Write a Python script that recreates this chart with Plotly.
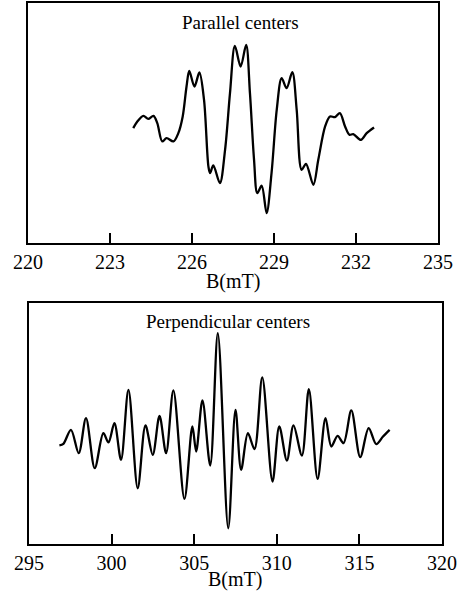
import plotly.graph_objects as go

# Parallel centers spectrum (B in mT, derivative signal in arbitrary units)
par_B = [223.85, 224.00, 224.22, 224.40, 224.59, 224.73, 224.91, 225.07, 225.32, 225.50,
         225.66, 225.80, 225.90, 226.09, 226.27, 226.44, 226.60, 226.66, 226.78, 227.02,
         227.21, 227.39, 227.57, 227.78, 227.98, 228.12, 228.27, 228.39, 228.55, 228.73,
         228.91, 229.10, 229.28, 229.46, 229.67, 229.83, 230.01, 230.17, 230.44, 230.62,
         230.87, 231.05, 231.23, 231.41, 231.60, 231.76, 231.90, 232.18, 232.39, 232.66]
par_S = [5.0, 11.7, 17.3, 14.3, 17.3, 10.0, -8.3, -5.0, -8.3, 0.0,
         16.7, 46.7, 62.3, 46.7, 60.7, 33.3, -33.3, -40.0, -32.3, -50.0,
         -16.7, 40.0, 87.3, 66.7, 88.3, 40.0, -26.7, -60.0, -52.7, -80.0,
         -40.0, 23.3, 55.0, 45.0, 61.0, 23.3, -36.7, -30.7, -51.7, -26.7,
         6.7, 16.7, 16.0, 20.0, 6.7, -1.7, -1.0, -6.7, 0.0, 5.7]

# Perpendicular centers spectrum
per_B = [296.84, 297.08, 297.54, 298.01, 298.45, 298.98, 299.50, 299.81, 300.17, 300.57,
         301.02, 301.58, 302.05, 302.49, 302.90, 303.30, 303.74, 304.41, 304.89, 305.12,
         305.50, 305.97, 306.43, 307.06, 307.50, 307.84, 308.25, 308.65, 309.12, 309.74,
         310.15, 310.61, 311.01, 311.52, 311.94, 312.47, 312.95, 313.30, 313.68, 314.04,
         314.51, 315.05, 315.56, 316.02, 316.43, 316.83]
per_S = [-2.3, -0.7, 13.3, -10.0, 25.0, -25.0, 10.0, 0.7, 20.0, -16.7,
         53.3, -45.0, 17.7, -11.7, 27.3, -10.0, 52.7, -55.7, 16.7, -8.3,
         42.7, -22.3, 110.0, -85.0, 33.3, -26.7, 10.0, -6.0, 65.7, -38.3,
         16.7, -17.3, 17.7, -12.3, 54.0, -35.7, 25.0, -3.3, 7.3, 0.0,
         32.7, -14.0, 15.0, -1.0, 6.7, 13.3]

par_ticks = [220, 223, 226, 229, 232, 235]
per_ticks = [295, 300, 305, 310, 315, 320]
x_label = "B(mT)"
titles = ["Parallel centers", "Perpendicular centers"]

W, H = 459, 592
FONT = "Liberation Serif, Times New Roman, serif"

fig = go.Figure()
fig.add_trace(go.Scatter(x=par_B, y=par_S, mode="lines", line=dict(color="black", width=2.3, shape="spline", smoothing=0.9),
                         xaxis="x", yaxis="y", showlegend=False, hoverinfo="skip"))
fig.add_trace(go.Scatter(x=per_B, y=per_S, mode="lines", line=dict(color="black", width=2.3, shape="spline", smoothing=0.9),
                         xaxis="x2", yaxis="y2", showlegend=False, hoverinfo="skip"))

def xax(domain, rng, ticks, anchor):
    return dict(domain=domain, range=rng, tickvals=ticks, ticktext=[str(t) for t in ticks],
                ticks="inside", ticklen=10, tickwidth=1.5, tickcolor="black",
                showline=True, linecolor="black", linewidth=1.5, mirror=True,
                showgrid=False, zeroline=False, anchor=anchor, automargin=False,
                tickfont=dict(family=FONT, size=20, color="black"))

def yax(domain, rng, anchor):
    return dict(domain=domain, range=rng, showticklabels=False, ticks="",
                showline=True, linecolor="black", linewidth=1.5, mirror=True,
                showgrid=False, zeroline=False, anchor=anchor, automargin=False)

def label(text, x, y, size):
    return dict(text=text, x=x / W, y=1 - y / H, xref="paper", yref="paper",
                showarrow=False, xanchor="center", yanchor="middle",
                font=dict(family=FONT, size=size, color="black"))

fig.update_layout(
    width=W, height=H, margin=dict(l=0, r=0, t=0, b=0),
    paper_bgcolor="white", plot_bgcolor="white",
    xaxis=xax([28 / W, 438 / W], [220, 235], par_ticks, "y"),
    yaxis=yax([1 - 243 / H, 1 - 3 / H], [-110, 130.3], "x"),
    xaxis2=xax([29 / W, 442 / W], [295, 320], per_ticks, "y2"),
    yaxis2=yax([1 - 544 / H, 1 - 303 / H], [-100.7, 140], "x2"),
    annotations=[
        label(titles[0], 240, 22, 19),
        label(titles[1], 228, 321, 19),
        label(x_label, 233, 281, 20),
        label(x_label, 235, 579, 20),
    ],
)

fig.write_html("out.html")
